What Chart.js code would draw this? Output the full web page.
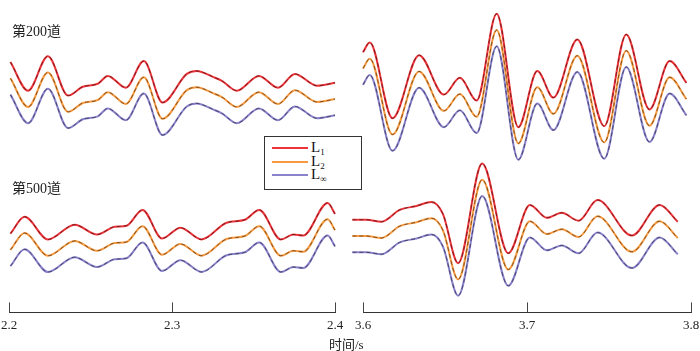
<!DOCTYPE html>
<html>
<head>
<meta charset="utf-8">
<script src="https://cdn.jsdelivr.net/npm/chart.js@4.4.1/dist/chart.umd.min.js"></script>
<style>
  body { margin: 0; background: #fff; }
  #wrap { position: relative; width: 700px; height: 351px; overflow: hidden; }
  canvas { position: absolute; top: 0; }
  .lbl { position: absolute; font-family: "Liberation Serif", "Noto Sans CJK SC", serif; color: #222; white-space: nowrap; }
  #legend { position: absolute; left: 264px; top: 136px; width: 96px; height: 52px; border: 1px solid #333; background: #fff; }
  .lg-line { position: absolute; left: 7px; width: 36px; height: 2px; }
  .lg-text { position: absolute; left: 46px; font-family: "Liberation Serif", serif; font-size: 15px; line-height: 15px; color: #111; }
  .lg-text sub { font-size: 9px; vertical-align: -3px; }
</style>
</head>
<body>
<div id="wrap">
  <canvas id="leftChart" width="360" height="351" style="left:-5px"></canvas>
  <canvas id="rightChart" width="365" height="351" style="left:340px"></canvas>
  <div class="lbl" style="left:12px; top:20px; font-size:14px;">第200道</div>
  <div class="lbl" style="left:12px; top:177px; font-size:14px;">第500道</div>
  <div class="lbl" style="left:329px; top:334px; font-size:13px;">时间/s</div>
  <div id="legend"></div>
</div>
<script>
// tick labels of the two time windows
const ticksLeft = [2.2, 2.3, 2.4];
const ticksRight = [3.6, 3.7, 3.8];

// legend names (subscripts)
const seriesSubs = ['1', '2', '∞'];

// trace 200, window 2.2-2.4 s
const tLeft200 = [2.2009, 2.2117, 2.2239, 2.2362, 2.2453, 2.2545, 2.2606, 2.2717, 2.2827, 2.2942,
  2.3091, 2.3152, 2.3251, 2.3306, 2.3398, 2.3533, 2.3650, 2.3754, 2.3889, 2.4000];
const aLeft200 = [1.7, -1.2, 2.3, -1.7, -0.8, -0.5, 0.3, -0.9, 1.8, -2.4,
  0.5, 0.8, 0.2, -0.2, -1.2, 0.3, -0.9, 0.5, -0.7, -0.4];

// trace 500, window 2.2-2.4 s
const tLeft500 = [2.2009, 2.2096, 2.2239, 2.2403, 2.2540, 2.2649, 2.2721, 2.2819, 2.2939, 2.3052,
  2.3181, 2.3335, 2.3447, 2.3535, 2.3668, 2.3744, 2.3805, 2.3955, 2.4000];
const aLeft500 = [-0.7, 1.0, -1.3, 0.2, -0.8, 0.0, 0.1, 1.7, -1.2, -0.1,
  -1.3, 0.4, 0.7, 1.7, -1.3, -0.8, -0.9, 2.4, 1.3];

// trace 200, window 3.6-3.8 s
const tRight200 = [3.6000, 3.6041, 3.6180, 3.6342, 3.6493, 3.6591, 3.6693, 3.6815, 3.6947, 3.7063,
  3.7161, 3.7307, 3.7471, 3.7605, 3.7747, 3.7870, 3.7972];
const aRight200 = [2.7, 3.7, -4.0, 2.4, -1.6, 0.1, -2.2, 6.6, -4.9, 0.8,
  -1.9, 4.0, -4.8, 4.5, -3.1, 1.8, -0.4];

// trace 500, window 3.6-3.8 s
const tRight500 = [3.5935, 3.6021, 3.6112, 3.6224, 3.6326, 3.6418, 3.6487, 3.6580, 3.6727, 3.6886,
  3.7018, 3.7121, 3.7212, 3.7314, 3.7430, 3.7640, 3.7809, 3.7919];
const aRight500 = [-0.1, -0.1, -0.3, 0.9, 1.3, 1.7, 0.5, -4.5, 5.6, -3.5,
  1.4, 0.1, 0.6, -0.2, 1.9, -1.7, 1.4, -0.3];

// display offsets (trace baselines, L1/L2/Linf stacking)
const baseLeft = [23.7, 8.7];
const baseRight = [23.7, 9.5];
const seriesShift = [0, -1.65, -3.3];
const seriesColors = ['#ec3439', '#f79a40', '#8a82cc'];

// legend
const legend = document.getElementById('legend');
seriesSubs.forEach((s, i) => {
    const y = 10 + i * 13.5;
    legend.innerHTML += `<div class="lg-line" style="top:${y}px;background:${seriesColors[i]}"></div>` +
        `<div class="lg-text" style="top:${y - 7}px">L<sub>${s}</sub></div>`;
});

// short tick marks standing on the axis line
const tickMarks = {
    id: 'tickMarks',
    afterDraw(chart) {
        const xs = chart.scales.x;
        const ctx = chart.ctx;
        const bottom = chart.chartArea.bottom;
        ctx.save();
        ctx.strokeStyle = '#444';
        ctx.lineWidth = 1;
        xs.ticks.forEach(t => {
            const px = Math.round(xs.getPixelForValue(t.value)) + 0.5;
            ctx.beginPath();
            ctx.moveTo(px, bottom - 10);
            ctx.lineTo(px, bottom);
            ctx.stroke();
        });
        ctx.restore();
    }
};

const makeDatasets = (traces, bases) => {
    const sets = [];
    traces.forEach((tr, k) => {
        seriesShift.forEach((sh, i) => {
            const pts = tr.t.map((t, j) => ({ x: t, y: tr.a[j] + bases[k] + sh }));
            sets.push({
                data: pts, borderColor: seriesColors[i], borderWidth: 2,
                pointRadius: 0, cubicInterpolationMode: 'monotone', clip: false, order: 1
            });
            sets.push({
                data: pts, borderColor: 'rgba(0,0,0,0.6)', borderWidth: 0.8, borderDash: [4, 3],
                pointRadius: 0, cubicInterpolationMode: 'monotone', clip: false, order: 0
            });
        });
    });
    return sets;
};

const makeChart = (id, traces, bases, tickVals, pad) => {
    const ctx = document.getElementById(id).getContext('2d');
    return new Chart(ctx, {
        type: 'line',
        data: { datasets: makeDatasets(traces, bases) },
        options: {
            responsive: false,
            animation: false,
            devicePixelRatio: 1,
            layout: { padding: pad },
            plugins: { legend: { display: false }, tooltip: { enabled: false } },
            scales: {
                x: {
                    type: 'linear',
                    min: tickVals[0],
                    max: tickVals[tickVals.length - 1],
                    afterBuildTicks: s => { s.ticks = tickVals.map(v => ({ value: v })); },
                    grid: { display: false, drawTicks: false },
                    border: { display: true, color: '#333', width: 1 },
                    ticks: {
                        padding: 5,
                        color: '#222',
                        font: { family: 'Liberation Serif', size: 13 },
                        callback: v => v.toFixed(1),
                        maxRotation: 0
                    }
                },
                y: { display: false, min: 0, max: 31.7 }
            }
        },
        plugins: [tickMarks]
    });
};

makeChart('leftChart',
    [{ t: tLeft200, a: aLeft200 }, { t: tLeft500, a: aLeft500 }],
    baseLeft, ticksLeft, { left: 14, right: 20, top: 0, bottom: 13 });

makeChart('rightChart',
    [{ t: tRight200, a: aRight200 }, { t: tRight500, a: aRight500 }],
    baseRight, ticksRight, { left: 23, right: 14, top: 0, bottom: 13 });
</script>
</body>
</html>
